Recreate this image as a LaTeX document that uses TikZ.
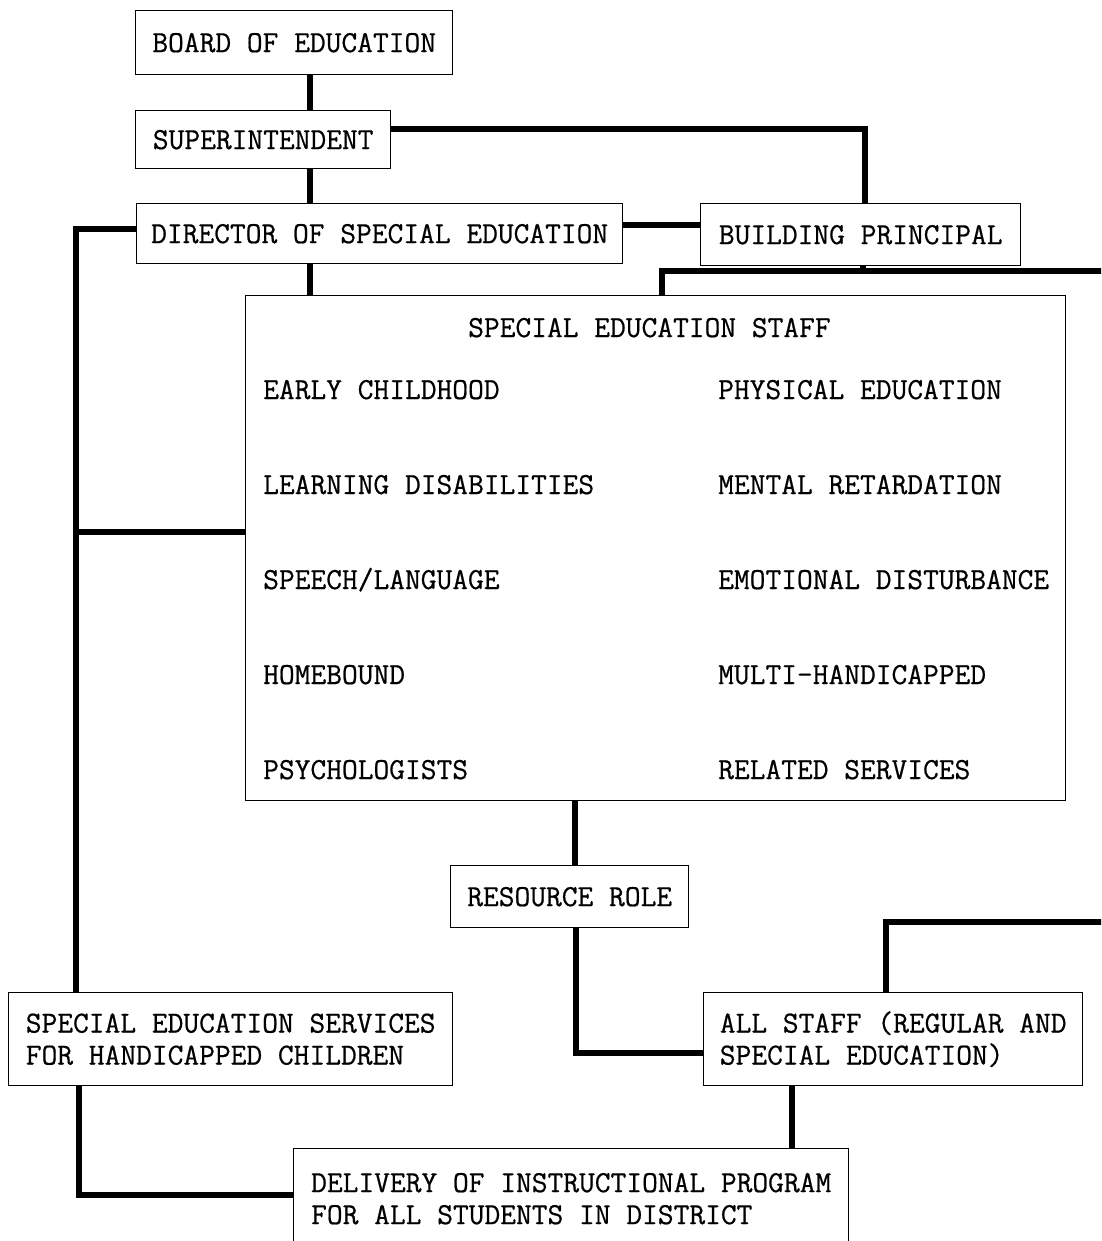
\documentclass[tikz,border=0pt]{standalone}
\usepackage{fontspec}
\setmonofont[FakeBold=0.6]{Latin Modern Mono}
\begin{document}
\begin{tikzpicture}[x=1pt,y=-1pt,
  every node/.style={font=\ttfamily\fontsize{30.6pt}{32pt}\selectfont},
  box/.style={draw, line width=1.4pt, anchor=north west, inner sep=0pt, align=left},
  item/.style={anchor=base west, inner sep=0pt},
  link/.style={line width=6.5pt}]
\useasboundingbox (0,0) rectangle (1101,1241);
\clip (0,0) rectangle (1101,1241);

% administrative boxes
\node[box, minimum width=317pt, minimum height=64pt] (board) at (135,10) {BOARD OF EDUCATION};
\node[box, minimum width=255pt, minimum height=58pt] (super) at (135,110) {SUPERINTENDENT};
\node[box, minimum width=486pt, minimum height=60pt] (dir) at (136,203) {DIRECTOR OF SPECIAL EDUCATION};
\node[box, minimum width=320pt, minimum height=62pt] (bp) at (700,203) {BUILDING PRINCIPAL};

% staff box and its contents
\node[box, minimum width=820pt, minimum height=505pt] (staff) at (245,295) {};
\node[item] (stitle) at (468,337) {SPECIAL EDUCATION STAFF};
\node[item] (s1) at (263,399) {EARLY CHILDHOOD};
\node[item] (s2) at (263,494) {LEARNING DISABILITIES};
\node[item] (s3) at (263,589) {SPEECH/LANGUAGE};
\node[item] (s4) at (263,684) {HOMEBOUND};
\node[item] (s5) at (263,779) {PSYCHOLOGISTS};
\node[item] (t1) at (718,399) {PHYSICAL EDUCATION};
\node[item] (t2) at (718,494) {MENTAL RETARDATION};
\node[item] (t3) at (718,589) {EMOTIONAL DISTURBANCE};
\node[item] (t4) at (718,684) {MULTI-HANDICAPPED};
\node[item] (t5) at (718,779) {RELATED SERVICES};

% lower boxes
\node[box, minimum width=238pt, minimum height=62pt] (res) at (450,865) {RESOURCE ROLE};
\node[box, minimum width=444pt, minimum height=93pt] (ses) at (8,992) {SPECIAL EDUCATION SERVICES\\FOR HANDICAPPED CHILDREN};
\node[box, minimum width=379pt, minimum height=93pt] (allst) at (703,992) {ALL STAFF (REGULAR AND\\SPECIAL EDUCATION)};
\node[box, minimum width=555pt, minimum height=100pt] (deliv) at (293,1148) {DELIVERY OF INSTRUCTIONAL PROGRAM\\FOR ALL STUDENTS IN DISTRICT};

% connectors
\coordinate (xA) at (310,0);
\draw[link] (board.south -| xA) -- (super.north -| xA);
\draw[link] (super.south -| xA) -- (dir.north -| xA);
\draw[link] (dir.south -| xA) -- (staff.north -| xA);

\coordinate (jSB) at (865,129);
\draw[link] (super.east |- jSB) -- (jSB) -- (jSB |- bp.north);

\coordinate (jDB) at (0,225);
\draw[link] (dir.east |- jDB) -- (bp.west |- jDB);

\coordinate (jBP) at (863,271);
\draw[link] (bp.south -| jBP) -- (jBP);
\coordinate (jST) at (662,271);
\coordinate (eR1) at (1115,271);
\draw[link] (eR1) -- (jST) -- (jST |- staff.north);

\coordinate (jL) at (76,229);
\draw[link] (dir.west |- jL) -- (jL) -- (jL |- ses.north);
\coordinate (jL2) at (76,532);
\draw[link] (jL2) -- (staff.west |- jL2);

\coordinate (xR) at (575,0);
\draw[link] (staff.south -| xR) -- (res.north -| xR);
\coordinate (jRA) at (576,1053);
\draw[link] (res.south -| jRA) -- (jRA) -- (allst.west |- jRA);

\coordinate (jAT) at (886,922);
\coordinate (eR2) at (1115,922);
\draw[link] (allst.north -| jAT) -- (jAT) -- (eR2);

\coordinate (xD) at (792,0);
\draw[link] (allst.south -| xD) -- (deliv.north -| xD);

\coordinate (jSD) at (79,1195);
\draw[link] (ses.south -| jSD) -- (jSD) -- (deliv.west |- jSD);
\end{tikzpicture}
\end{document}
